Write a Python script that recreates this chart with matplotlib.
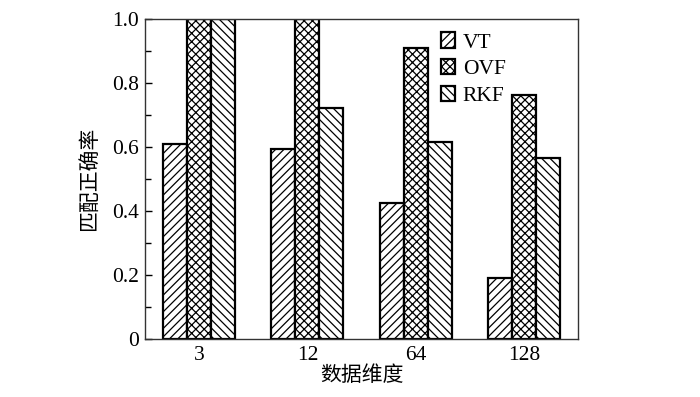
import numpy as np
import matplotlib
matplotlib.use("Agg")
import matplotlib.pyplot as plt

plt.rcParams['font.family'] = ['Liberation Serif', 'Noto Sans CJK SC']
plt.rcParams['hatch.linewidth'] = 0.9

# data
dims = ['3', '12', '64', '128']
vt = [0.61, 0.595, 0.425, 0.19]
ovf = [1.0, 1.0, 0.908, 0.762]
rkf = [1.0, 0.723, 0.617, 0.565]

fig = plt.figure(figsize=(7, 3.97), dpi=100)
ax = fig.add_axes([0.207, 0.146, 0.619, 0.806])

x = np.arange(len(dims))
w = 0.222
ax.bar(x - w, vt, w, facecolor='white', edgecolor='black', linewidth=1.6, hatch='////', label='VT')
ax.bar(x, ovf, w, facecolor='white', edgecolor='black', linewidth=1.6, hatch='xxxx', label='OVF')
ax.bar(x + w, rkf, w, facecolor='white', edgecolor='black', linewidth=1.6, hatch='\\\\\\\\', label='RKF')

ax.set_xlim(-0.5, 3.5)
ax.set_ylim(0, 1.0)
ax.set_xticks(x)
ax.set_xticklabels(dims)
ax.set_yticks([0, 0.2, 0.4, 0.6, 0.8, 1.0])
ax.set_yticklabels(['0', '0.2', '0.4', '0.6', '0.8', '1.0'])
ax.set_yticks(np.arange(0.1, 1.0, 0.2), minor=True)
ax.tick_params(axis='y', which='major', direction='in', length=5, width=1, labelsize=15.5, pad=4)
ax.tick_params(axis='y', which='minor', direction='in', length=4, width=1)
ax.tick_params(axis='x', length=0, labelsize=15.5, pad=5)
for s in ax.spines.values():
    s.set_linewidth(1.0)
    s.set_color('#333333')

ax.set_xlabel('数据维度', fontsize=15, labelpad=1)
ax.set_ylabel('匹配正确率', fontsize=15, labelpad=9)

ax.legend(loc='upper left', bbox_to_anchor=(0.664, 0.985), frameon=False, fontsize=15.5,
          handlelength=0.65, handleheight=0.7, handletextpad=0.35, labelspacing=0.3,
          borderaxespad=0)

fig.savefig('out.png', dpi=100)
